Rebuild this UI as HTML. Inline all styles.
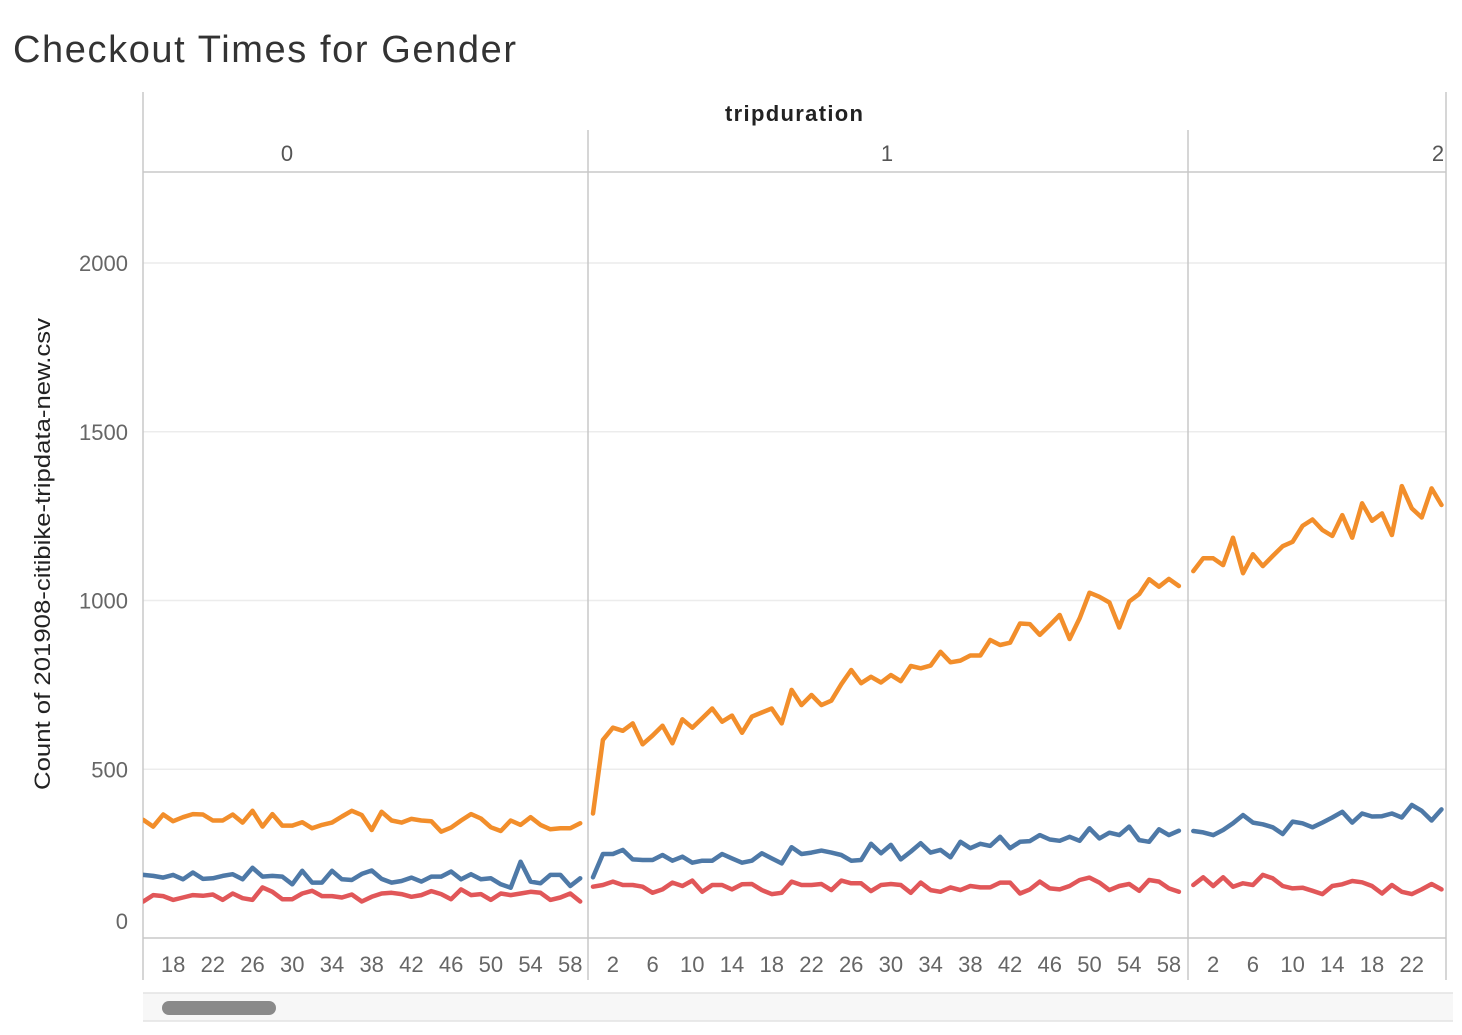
<!DOCTYPE html>
<html><head><meta charset="utf-8"><style>
body{margin:0;background:#fff;width:1462px;height:1030px;overflow:hidden;font-family:"Liberation Sans",sans-serif}
svg text{font-family:"Liberation Sans",sans-serif}
</style></head><body>
<svg id="chart" width="1462" height="1030" xmlns="http://www.w3.org/2000/svg">
<text x="13" y="62" font-size="38" fill="#333" textLength="503" lengthAdjust="spacing">Checkout Times for Gender</text>
<g id="grid"></g><g id="frame"></g><g id="lines"></g><g id="labels"></g>
<rect x="143" y="993" width="1310" height="28" fill="#f7f7f7"/>
<line x1="143" y1="993" x2="1453" y2="993" stroke="#e4e4e4" stroke-width="1.5"/>
<line x1="143" y1="1021" x2="1453" y2="1021" stroke="#e4e4e4" stroke-width="1.5"/>
<rect x="162" y="1001" width="114" height="14" rx="7" fill="#8a8a8a"/>
</svg>
<script>
const yTicks=[0,500,1000,1500,2000];
const panels=["0","1","2"];
const panelStartMinute=[15,0,0];
const orange0=[350,330,366,346,358,367,366,348,348,366,342,377,330,367,333,333,343,325,335,342,360,377,364,320,374,348,342,353,348,346,315,327,348,367,354,328,317,348,335,358,335,322,325,325,340];
const blue0=[187,184,179,187,174,194,175,177,184,189,174,208,182,184,182,159,199,164,164,199,174,172,190,200,175,164,169,179,167,182,182,197,174,189,174,177,159,149,226,167,162,187,187,154,177];
const red0=[108,127,124,113,120,127,125,129,113,132,118,113,150,137,115,115,132,140,124,124,120,129,108,122,132,134,130,122,127,139,130,115,144,127,130,113,132,127,132,137,134,113,120,132,108];
const orange1=[369,587,623,614,636,574,600,629,577,648,623,651,680,641,659,608,656,668,680,636,735,690,720,690,703,752,794,755,774,757,779,761,806,799,807,848,817,822,837,837,883,868,875,932,930,898,927,957,886,947,1023,1011,994,920,997,1019,1063,1041,1064,1043];
const blue1=[180,249,249,261,233,231,231,246,229,241,223,229,229,249,236,223,229,251,236,221,269,249,253,259,253,246,229,231,279,251,276,233,256,281,253,261,239,285,266,279,273,300,266,285,287,305,292,288,300,288,325,295,312,305,330,290,285,322,305,318];
const red1=[152,157,167,157,157,152,134,144,164,154,170,137,157,157,144,159,160,142,130,134,167,157,157,160,142,170,162,162,139,157,160,157,134,164,142,137,150,142,154,150,150,164,164,132,144,167,147,144,154,172,179,164,142,154,160,140,172,167,147,137];
const orange2=[1087,1125,1125,1105,1186,1081,1137,1102,1132,1161,1174,1221,1240,1209,1191,1253,1186,1288,1236,1258,1194,1339,1273,1246,1332,1283];
const blue2=[317,313,305,320,340,364,342,337,328,308,345,340,328,342,357,374,342,369,360,361,369,357,394,377,348,381];
const red2=[157,180,154,180,152,162,157,187,177,154,147,149,140,130,154,159,169,165,154,132,157,137,130,144,160,144];
const xTicks0=[18,22,26,30,34,38,42,46,50,54,58];
const xTicks1=[2,6,10,14,18,22,26,30,34,38,42,46,50,54,58];
const xTicks2=[2,6,10,14,18,22];

const NS="http://www.w3.org/2000/svg";
const panelLeft=[143,588,1188], panelRight=[588,1188,1446];
const origin=[-5.65,593,1193.3], step=9.93;
function x(p,m){return origin[p]+m*step;}
function y(v){return 938-v*0.3375;}
function mk(tag,attrs,parent){const e=document.createElementNS(NS,tag);for(const k in attrs)e.setAttribute(k,attrs[k]);document.getElementById(parent).appendChild(e);return e;}

yTicks.forEach(t=>{
  if(t>0){const g=mk('line',{x1:143,x2:1446,y1:y(t),y2:y(t),stroke:'#ececec','stroke-width':1.5},'grid');
  
  }
  const l=mk('text',{x:128,y:t===0?929:y(t)+8,'font-size':22,fill:'#666','text-anchor':'end'},'labels');
  l.textContent=t;
  
  
});
[[143,92,143,980],[588,130,588,980],[1188,130,1188,980],[1446,92,1446,980],[143,172,1446,172],[143,938,1446,938]].forEach((c,i)=>{
  const f=mk('line',{x1:c[0],y1:c[1],x2:c[2],y2:c[3],stroke:'#c8c8c8','stroke-width':1.5},'frame');
  
  
});
const hdr=mk('text',{x:794,y:121,'font-size':22,fill:'#222','text-anchor':'middle','font-weight':'bold',textLength:138},'labels');
hdr.textContent='tripduration';


const px=[287,887,1438];
panels.forEach((p,i)=>{
  const t=mk('text',{x:px[i],y:161,'font-size':22,fill:'#555','text-anchor':'middle'},'labels');
  t.textContent=p;
  
  
});
const yt=mk('text',{x:0,y:0,'font-size':22,fill:'#222','text-anchor':'middle',textLength:472,lengthAdjust:'spacingAndGlyphs',transform:'translate(50,554) rotate(-90)'},'labels');
yt.textContent='Count of 201908-citibike-tripdata-new.csv';


[xTicks0,xTicks1,xTicks2].forEach((ticks,p)=>{
  ticks.forEach(m=>{
    const t=mk('text',{x:x(p,m),y:972,'font-size':22,fill:'#666','text-anchor':'middle'},'labels');
    t.textContent=m;
    
    
  });
});
const defs=mk('defs',{},'lines');
panelLeft.forEach((l,i)=>{
  const cp=document.createElementNS(NS,'clipPath');cp.setAttribute('id','clip'+i);
  const r=document.createElementNS(NS,'rect');
  r.setAttribute('x',l);r.setAttribute('y',172);r.setAttribute('width',panelRight[i]-l);r.setAttribute('height',766);
  cp.appendChild(r);defs.appendChild(cp);
});
const series=[[orange0,blue0,red0],[orange1,blue1,red1],[orange2,blue2,red2]];
const colors=['#f28e2b','#4e79a7','#e15759'];
const names=['orange','blue','red'];
series.forEach((ss,p)=>{
  ss.forEach((vals,k)=>{
    const d=vals.map((v,i)=>(i?'L':'M')+x(p,panelStartMinute[p]+i).toFixed(1)+','+y(v).toFixed(1)).join('');
    const path=mk('path',{d:d,fill:'none',stroke:colors[k],'stroke-width':4.5,'stroke-linejoin':'round','stroke-linecap':'round','clip-path':'url(#clip'+p+')'},'lines');
    
    
  });
});
</script>
</body></html>
